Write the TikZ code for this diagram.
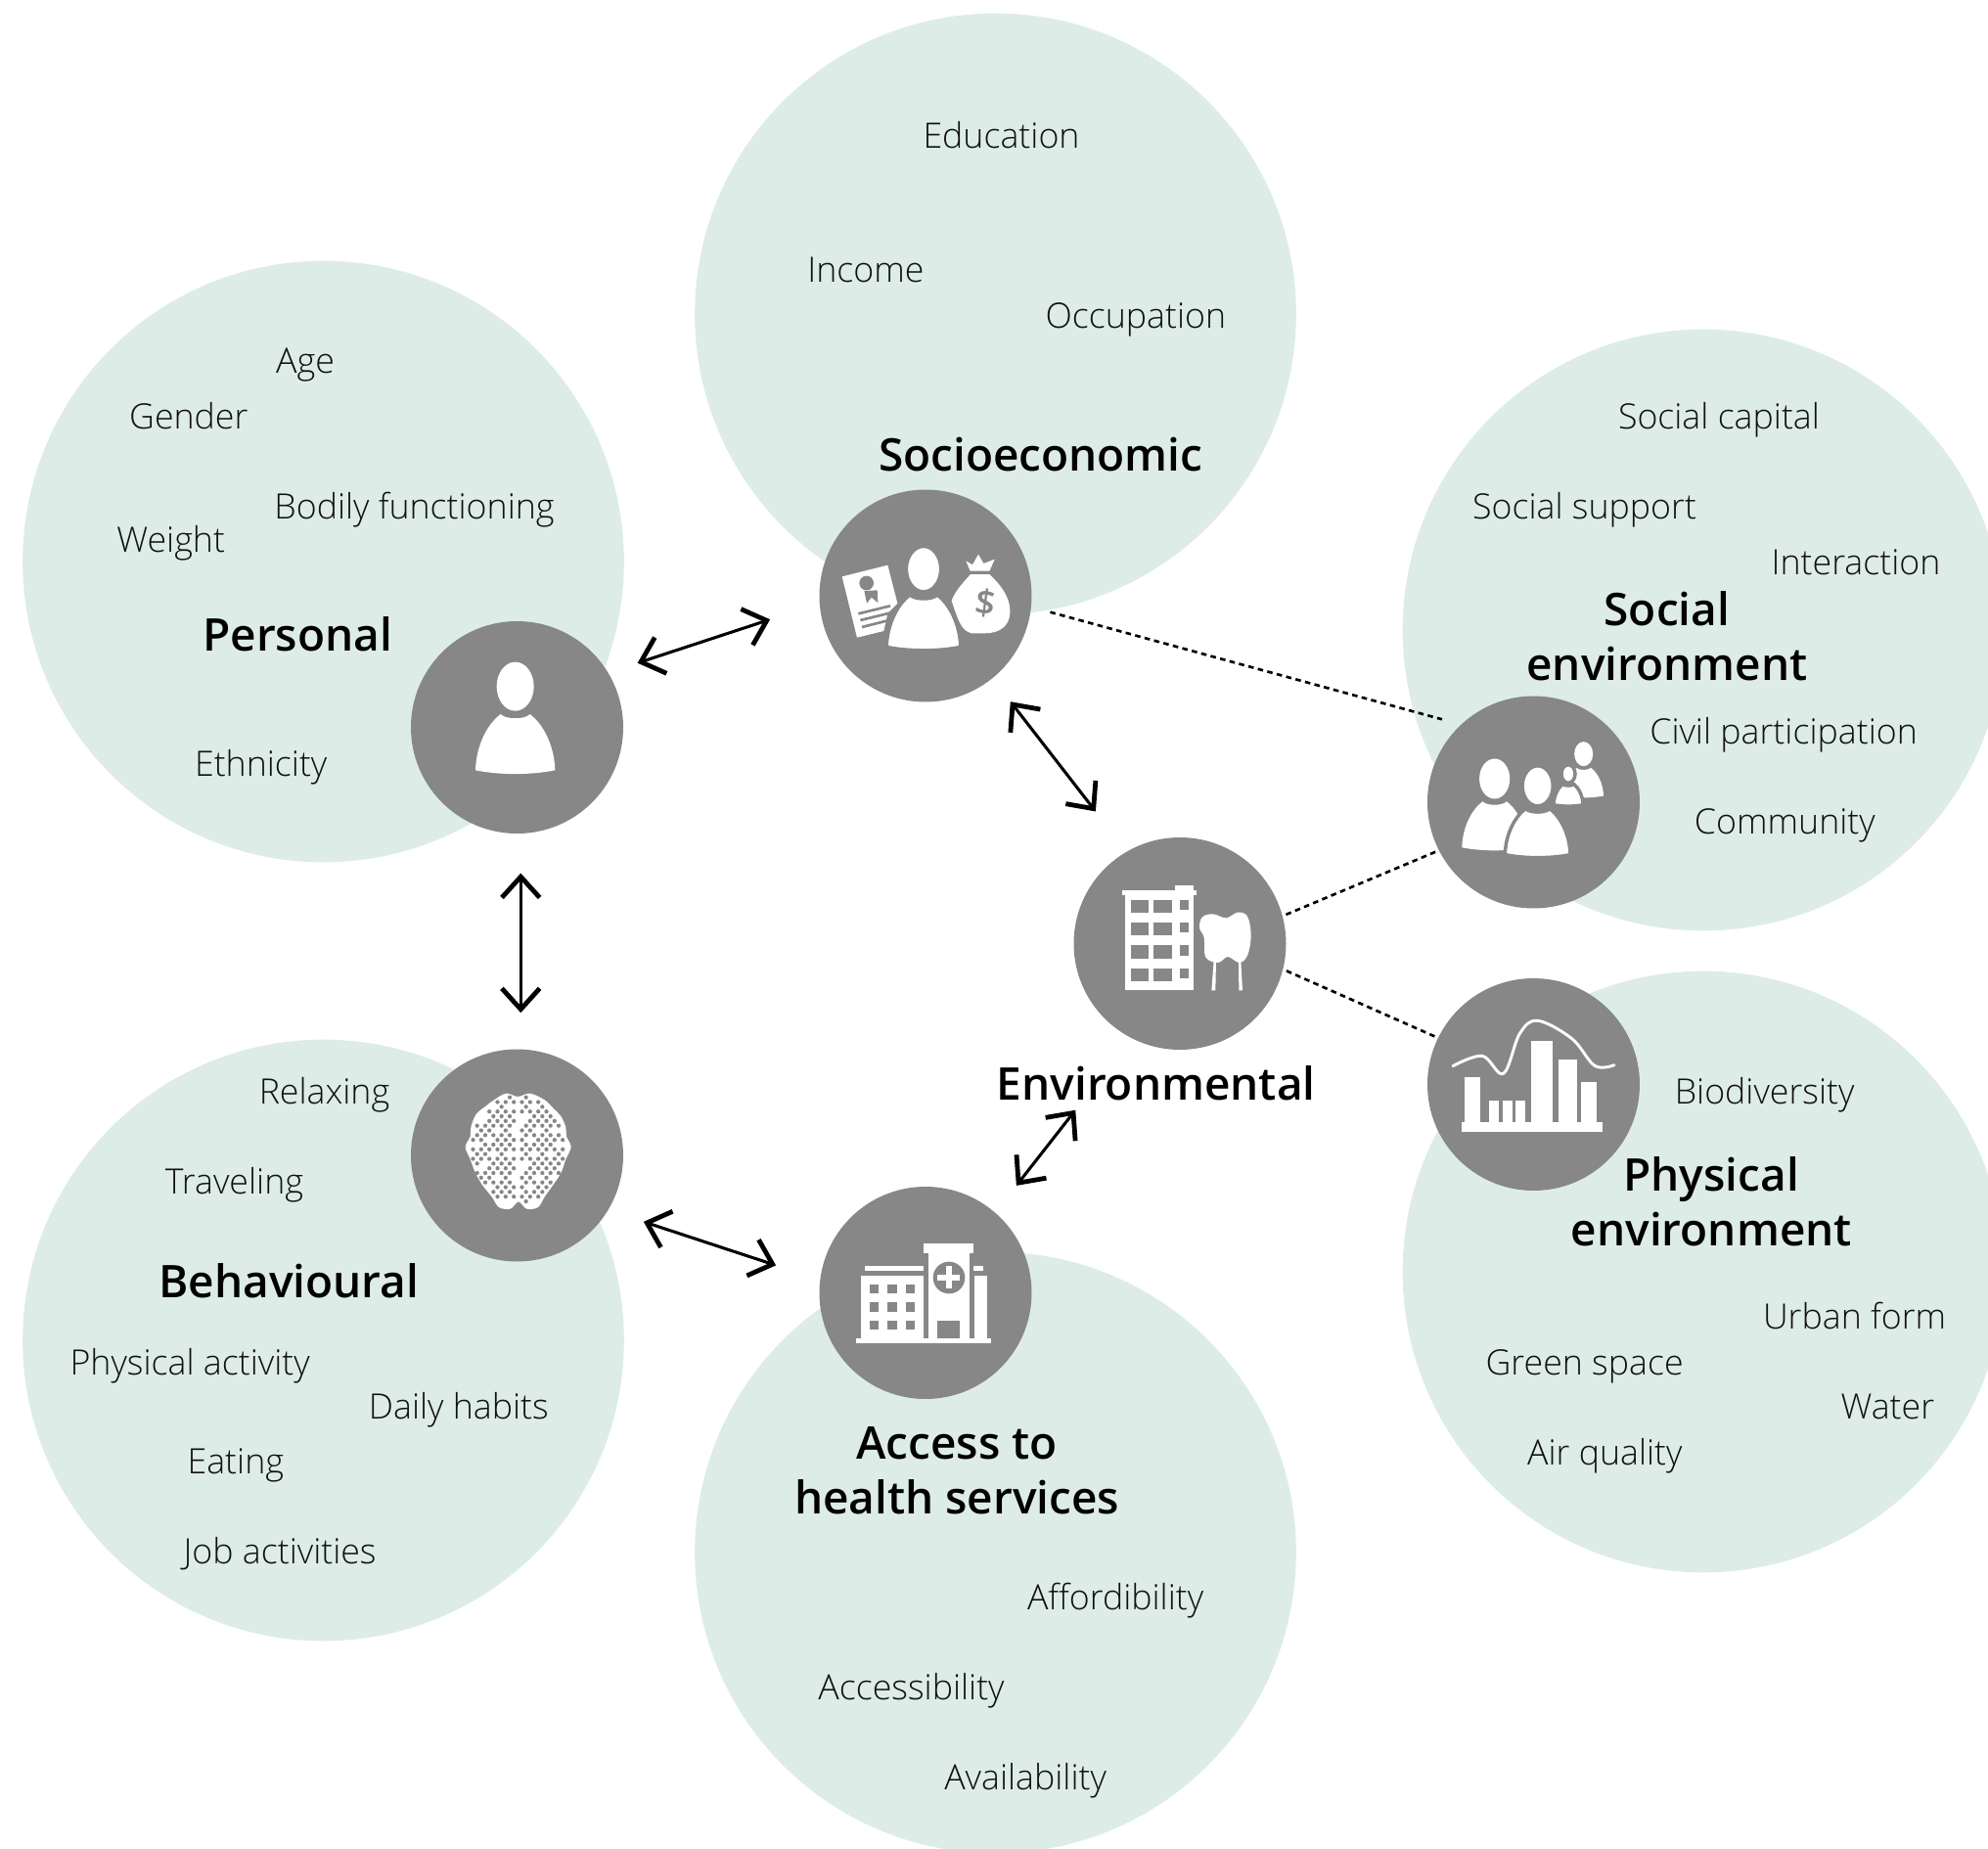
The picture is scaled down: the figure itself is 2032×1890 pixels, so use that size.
\documentclass[tikz,border=0pt]{standalone}
\usepackage{fontspec}
\usetikzlibrary{arrows.meta}
\newfontfamily\bodyfont{Open Sans Light}
\newfontfamily\headfont{Open Sans Semibold}
\definecolor{bigc}{HTML}{DEECE8}
\definecolor{iconbg}{HTML}{878787}
\definecolor{ink}{HTML}{111111}
\tikzset{
  bigcircle/.style={circle,fill=bigc,draw=none,inner sep=0pt,outer sep=0pt,minimum size=461pt},
  iconcircle/.style={circle,fill=iconbg,draw=none,inner sep=0pt,outer sep=0pt,minimum size=162.75pt},
  item/.style={text=ink,font=\bodyfont\fontsize{26.8}{30}\selectfont,inner sep=0pt,text height=20.4pt,text depth=1.1pt},
  head/.style={text=black,font=\headfont\fontsize{34.5}{42.2}\selectfont,inner sep=0pt,align=center},
  link/.style={line width=2.3pt,{Straight Barb[length=16pt,width=29pt,line width=3.6pt]}-{Straight Barb[length=16pt,width=29pt,line width=3.6pt]}},
  dots/.style={line width=2pt,dash pattern=on 4.2pt off 3.3pt,black},
  wh/.style={fill=white,draw=none},
  gr/.style={fill=iconbg,draw=none},
  ring/.style={fill=white,draw=iconbg,line width=2.6pt},
  zoomed/.style={x=0.25pt,y=-0.25pt}
}
% person silhouette, in units of a 3x crop; #4 is the style
\newcommand{\figperson}[4]{%
  \begin{scope}[shift={(#1,#2)},scale=#3]
    \path[#4] (-122,257) .. controls (-120,180) and (-85,115) .. (-45,85)
      .. controls (-30,102) and (30,102) .. (45,85)
      .. controls (85,115) and (120,180) .. (122,257)
      .. controls (50,272) and (-50,272) .. cycle;
    \path[#4] (0,0) ellipse [x radius=57,y radius=75];
  \end{scope}}
\begin{document}
\begin{tikzpicture}[x=0.75pt,y=-0.75pt]
\clip (0,0) rectangle (2032,1890);
\useasboundingbox (0,0) rectangle (2032,1890);
% background discs
\node[bigcircle] (bigper) at (330.5,574) {};
\node[bigcircle] (bigsoc) at (1017.5,321) {};
\node[bigcircle] (bigsoe) at (1741,644) {};
\node[bigcircle] (bigphy) at (1741,1300) {};
\node[bigcircle] (bigacc) at (1017.5,1587) {};
\node[bigcircle] (bigbeh) at (330.5,1370) {};
% icon discs
\node[iconcircle] (per) at (528.5,743.5) {};
\node[iconcircle] (soc) at (946,609) {};
\node[iconcircle] (soe) at (1567.5,820) {};
\node[iconcircle] (phy) at (1567.5,1108.5) {};
\node[iconcircle] (env) at (1206,964.5) {};
\node[iconcircle] (acc) at (946,1321.5) {};
\node[iconcircle] (beh) at (528.5,1181) {};
% double-headed links
\draw[link,shorten <=23.8pt,shorten >=40pt] (per.31.7) -- (soc.184.7);
\draw[link,shorten <=30.5pt,shorten >=28pt] (per.-88.5) -- (beh.88.5);
\draw[link,shorten <=28.7pt,shorten >=35.7pt] (beh.-31.8) -- (acc.173.2);
\draw[link,shorten <=22.7pt,shorten >=39pt] (soc.-51.1) -- (env.120.6);
\draw[link,shorten <=26.4pt,shorten >=70pt] (acc.49.7) -- (env.243.7);
% dotted links
\draw[dots,shorten <=15.2pt,shorten >=15.2pt] (soc.-6.7) -- (soe.133);
\draw[dots,shorten <=3pt,shorten >=2.5pt] (env.15.6) -- (soe.207.6);
\draw[dots,shorten <=3pt,shorten >=2pt] (env.-14.8) -- (phy.154.7);
% icon: personal
\begin{scope}[shift={(410,625)},zoomed]
  \figperson{350}{230}{1}{wh}
\end{scope}
% icon: socioeconomic
\begin{scope}[shift={(820,490)},zoomed]
  \path[wh] (122,298) -- (262,263) -- (292,380) -- (262,410) -- (250,465) -- (168,485) -- cycle;
  \path[gr] (197,318) circle (22);
  \path[gr] (190,342) -- (230,340) -- (232,378) -- (212,362) -- (198,380) -- cycle;
  \draw[iconbg,line width=2pt] (172,412) -- (270,388) (178,432) -- (268,410) (183,453) -- (258,434);
  \path[wh] (502,250) -- (522,262) -- (540,230) -- (556,258) -- (590,245) -- (574,281) -- (515,281) -- cycle;
  \path[wh] (516,291) -- (574,291) .. controls (610,325) and (640,365) .. (637,410)
     .. controls (635,450) and (605,472) .. (560,472) -- (520,472)
     .. controls (490,465) and (480,440) .. (458,372) .. controls (470,340) and (495,315) .. cycle;
  \node[text=iconbg,font=\headfont\fontsize{27}{27}\selectfont,rotate=-8,inner sep=0pt] (dollar) at (562,380) {\$};
  \figperson{372}{275}{0.93}{ring}
\end{scope}
% icon: social environment
\begin{scope}[shift={(1440,700)},zoomed]
  \figperson{536}{212}{0.5}{wh}
  \figperson{489}{273}{0.37}{ring}
  \figperson{263}{288}{0.82}{wh}
  \figperson{395}{310}{0.82}{ring}
\end{scope}
% icon: physical environment
\begin{scope}[shift={(1440,990)},zoomed]
  \path[wh] (162,470) rectangle (594,501);
  \path[wh] (172,332) rectangle (218,470);
  \path[wh] (245,406) rectangle (275,470);
  \path[wh] (287,406) rectangle (317,470);
  \path[wh] (328,406) rectangle (357,470);
  \path[wh] (374,222) rectangle (440,470);
  \path[wh] (459,278) rectangle (517,470);
  \path[wh] (529,348) rectangle (575,470);
  \draw[white,line width=2.2pt,line cap=round] plot[smooth,tension=0.6] coordinates
    {(135,299) (225,268) (290,322) (340,200) (395,160) (500,215) (570,298) (630,296)};
\end{scope}
% icon: environmental
\begin{scope}[shift={(1085,850)},zoomed]
  \path[wh] (187,181) rectangle (413,194);
  \path[wh] (347,166) rectangle (406,181);
  \path[wh] (194,194) rectangle (406,485);
  \foreach \yy in {209,279,349,419}{
    \path[gr] (212,\yy) rectangle (268,\yy+40);
    \path[gr] (282,\yy) rectangle (338,\yy+40);
    \path[gr] (362,\yy) rectangle (390,\yy+31);
  }
  \path[wh] plot[smooth cycle,tension=0.6] coordinates
    {(432,262) (465,253) (505,265) (540,248) (570,260) (581,320) (570,380) (545,402) (510,384) (480,402) (442,385) (437,325) (423,295)};
  \path[wh] (467,395) -- (474,395) -- (472,487) -- (460,487) -- cycle;
  \path[wh] (543,398) -- (550,398) -- (555,487) -- (544,487) -- cycle;
\end{scope}
% icon: access
\begin{scope}[shift={(820,1210)},zoomed]
  \path[wh] (165,475) rectangle (580,488);
  \path[wh] (179,281) rectangle (373,475);
  \path[wh] (192,252) rectangle (372,267);
  \path[wh] (387,212) rectangle (512,475);
  \path[wh] (373,184) rectangle (525,212);
  \path[wh] (527,281) rectangle (567,475);
  \path[wh] (525,252) rectangle (555,267);
  \foreach \xx in {207,262,318}\foreach \yy in {309,364,419}{
    \path[gr] (\xx,\yy) rectangle (\xx+28,\yy+28);
  }
  \path[gr] (450,288) circle (49);
  \path[wh] (415,278) rectangle (484,297);
  \path[wh] (440,253) rectangle (459,322);
  \path[gr] (415,420) rectangle (484,475);
\end{scope}
% icon: behavioural
\begin{scope}[shift={(410,1065)},zoomed]
  \path[wh] plot[smooth cycle,tension=0.55] coordinates
    {(358,168) (395,158) (440,178) (468,205) (490,228) (505,262) (507,290) (521,322)
     (505,360) (490,402) (465,440) (440,475) (420,507) (385,512) (360,490)
     (335,512) (300,507) (278,475) (250,440) (228,402) (212,360) (197,322)
     (212,290) (214,262) (230,222) (262,195) (285,178) (322,158)};
  \foreach \row in {0,...,23}{
    \foreach \col in {-6,...,6}{
      \pgfmathsetmacro{\dx}{\col*25+mod(\row,2)*12.5}
      \pgfmathsetmacro{\dy}{\row*14.5+170}
      \pgfmathtruncatemacro{\keep}{(pow(\dx/150,2)+pow((\dy-330)/172,2)<0.9)*(abs(\dx)>12)*(mod(\row*7+\col*\col*3+\row*\col,5)>0)}
      \ifnum\keep=1 \path[gr] (358+\dx,\dy) circle (6.4);\fi
    }
  }
\end{scope}
% texts, in the units of the shrunk view
\begin{scope}[x=0.97194pt,y=-0.97194pt,shift={(0.8,0.6)}]
\node[item] (t1) at (789,106) {Education};
\node[item] (t2) at (682,212) {Income};
\node[item] (t3) at (895,248) {Occupation};
\node[head] (h1) at (820,358) {Socioeconomic};
\node[item] (t4) at (240,284) {Age};
\node[item] (t5) at (148,328) {Gender};
\node[item] (t6) at (326,399) {Bodily functioning};
\node[item] (t7) at (134,425) {Weight};
\node[head] (h2) at (234,500) {Personal};
\node[item] (t8) at (205,602) {Ethnicity};
\node[item] (t9) at (1355,328) {Social capital};
\node[item] (t10) at (1249,399) {Social support};
\node[item] (t11) at (1463,443) {Interaction};
\node[head] (h3) at (1314,501) {Social\\environment};
\node[item] (t12) at (1406,576) {Civil participation};
\node[item] (t13) at (1407,647) {Community};
\node[head] (h4) at (911,854) {Environmental};
\node[item] (t14) at (1391,860) {Biodiversity};
\node[head] (h5) at (1349,947) {Physical\\environment};
\node[item] (t15) at (1462,1038) {Urban form};
\node[item] (t16) at (1249,1074) {Green space};
\node[item] (t17) at (1488,1109) {Water};
\node[item] (t18) at (1265,1145) {Air quality};
\node[item] (t19) at (255,860) {Relaxing};
\node[item] (t20) at (184,931) {Traveling};
\node[head] (h6) at (227,1010) {Behavioural};
\node[item] (t21) at (149,1074) {Physical activity};
\node[item] (t22) at (361,1109) {Daily habits};
\node[item] (t23) at (185,1152) {Eating};
\node[item] (t24) at (220,1223) {Job activities};
\node[head] (h7) at (754,1159.5) {Access to\\health services};
\node[item] (t25) at (879,1259) {Affordibility};
\node[item] (t26) at (718,1330) {Accessibility};
\node[item] (t27) at (808,1401) {Availability};
\end{scope}
\end{tikzpicture}
\end{document}
